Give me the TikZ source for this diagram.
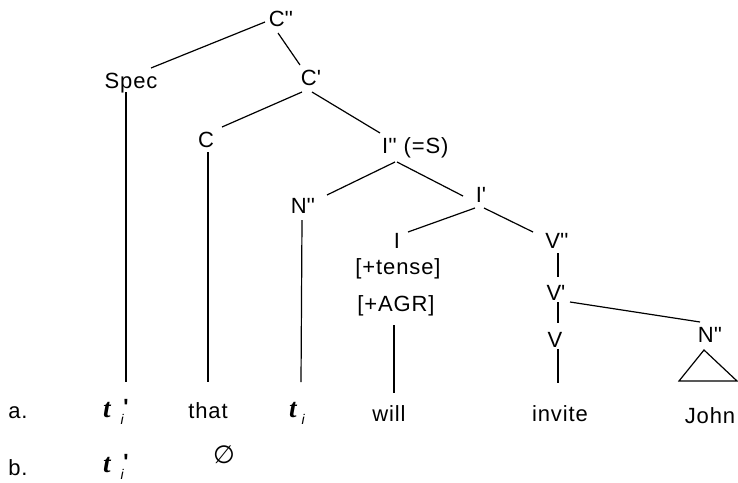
\documentclass[tikz,border=0pt]{standalone}
\usepackage{fontspec}
\setmainfont{Liberation Sans}[LetterSpace=4]
\newfontfamily\tfont{Liberation Serif}
\newfontfamily\symfont{DejaVu Sans}
\newcommand\pq{\textquotesingle}
\newcommand\tpi{{\tfont\bfseries\itshape t}\kern10pt\raisebox{-7pt}{\fontsize{14}{14}\selectfont\itshape i}\kern-0.5pt\raisebox{3pt}{\fontsize{22}{24}\selectfont\bfseries\pq}}
\newcommand\tsi{{\tfont\bfseries\itshape t}\kern5pt\raisebox{-7pt}{\fontsize{14}{14}\selectfont\itshape i}}
\newcommand\lnk[4]{\draw[lk] ([shift={#2}]#1) -- ([shift={#4}]#3);}
\begin{document}
\begin{tikzpicture}[x=1pt,y=-1pt,
  every node/.style={inner sep=0pt, anchor=base, font=\fontsize{22}{26}\selectfont},
  tnode/.style={anchor=base west, font=\fontsize{27}{30}\selectfont},
  lk/.style={line width=1.2pt}]
\useasboundingbox (0,0) rectangle (738,482);
% labels
\node (Cpp) at (281,26) {C\pq\pq};
\node (Spec) at (131,88) {Spec};
\node (Cp) at (311,85) {C\pq};
\node (C) at (206,147) {C};
\node[anchor=base west] (Ipp) at (382,153) {I\pq\pq\ (=S)};
\node (Npp) at (303,213) {N\pq\pq};
\node (Ip) at (481,202) {I\pq};
\node (I) at (397,248) {I};
\node (tense) at (398,274) {[+tense]};
\node (AGR) at (396,311) {[+AGR]};
\node (Vpp) at (557,248) {V\pq\pq};
\node (Vp) at (556,300) {V\pq};
\node (V) at (555,347) {V};
\node (Np2) at (710,342) {N\pq\pq};
% bottom rows
\node (a) at (18,418) {a.};
\node (b) at (18,475) {b.};
\node[tnode] (ta) at (103,417) {\tpi};
\node[tnode] (tb) at (103,472) {\tpi};
\node (that) at (208,418) {that};
\node[tnode] (ti) at (289,417) {\tsi};
\node (will) at (389,421) {will};
\node (invite) at (560,421) {invite};
\node (John) at (710,423) {John};
\node[anchor=center, font=\symfont\fontsize{25}{28}\selectfont] (empty) at (224,455) {∅};
% branches
\lnk{Cpp.base}{(-16,-4)}{Spec.base}{(20,-20)}
\lnk{Cpp.base}{(-3,7)}{Cp.base}{(-11,-20)}
\lnk{Cp.base}{(-9,7)}{C.base}{(16,-20)}
\lnk{Cp.base}{(1,7)}{Ipp.base west}{(-2,-20)}
\lnk{Spec.base}{(-5,4)}{ta.base west}{(23,-35)}
\lnk{C.base}{(2,5)}{that.base}{(0,-36)}
\lnk{Ipp.base west}{(13,9)}{Npp.base}{(24,-18)}
\lnk{Ipp.base west}{(15,9)}{Ip.base}{(-18,-6)}
\lnk{Npp.base}{(-1,7)}{ti.base west}{(12,-35)}
\lnk{Ip.base}{(-6,6)}{I.base}{(11,-16)}
\lnk{Ip.base}{(3,6)}{Vpp.base}{(-24,-16)}
\lnk{AGR.base}{(-2,14)}{will.base}{(5,-28)}
\lnk{Vpp.base}{(1,5)}{Vp.base}{(2,-23)}
\lnk{Vp.base}{(2,2)}{V.base}{(3,-24)}
\lnk{V.base}{(3,2)}{invite.base}{(-2,-38)}
\lnk{Vp.base}{(14,2)}{Np2.base}{(-10,-20)}
\draw[lk] ([shift={(-6,8)}]Np2.base) -- ([shift={(-31,39)}]Np2.base) -- ([shift={(27,39)}]Np2.base) -- cycle;
\end{tikzpicture}
\end{document}
